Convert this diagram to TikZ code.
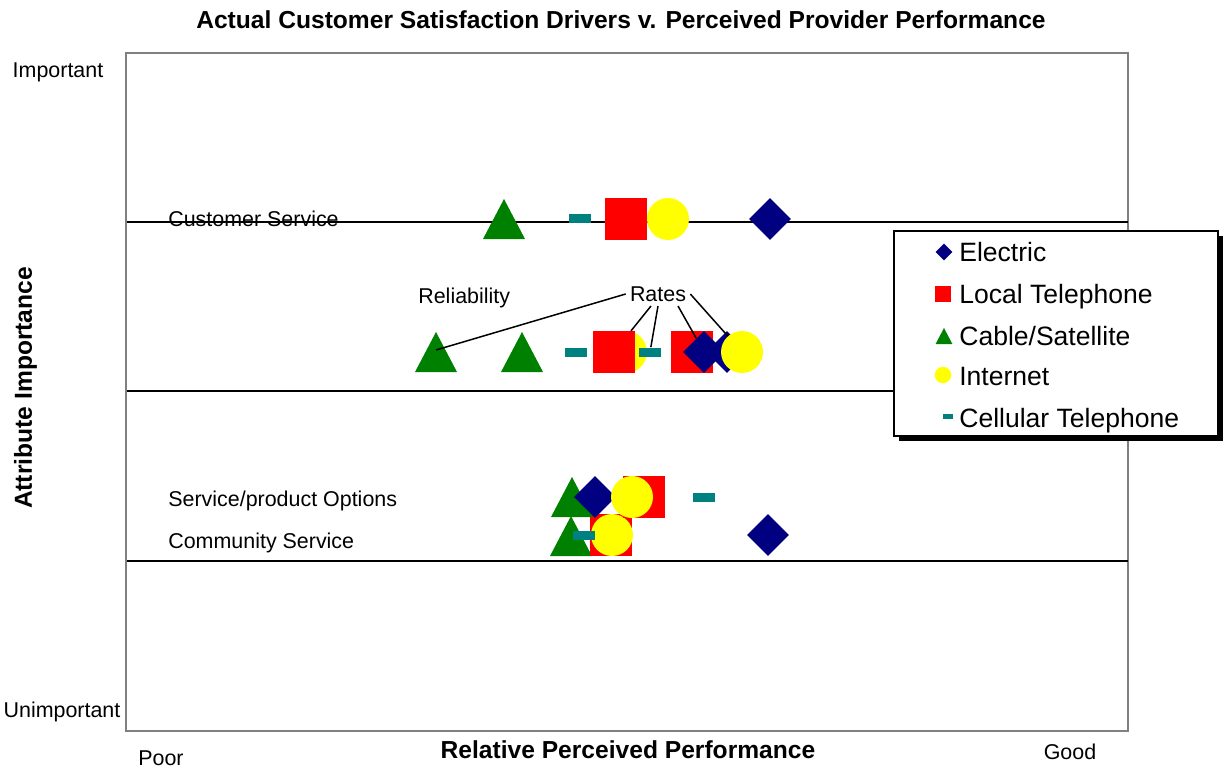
\documentclass[tikz,border=0pt]{standalone}
\usepackage{fontspec}
\setmainfont{Liberation Sans}
\usepackage{tikz}
\usetikzlibrary{shapes,shadows}
\definecolor{elecblue}{RGB}{0,0,128}
\definecolor{cablegreen}{RGB}{0,128,0}
\definecolor{netyellow}{RGB}{255,255,0}
\definecolor{cellteal}{RGB}{0,128,128}
\tikzstyle{electric}=[diamond,fill=elecblue,inner sep=0,minimum size=.84cm]
\tikzstyle{localtel}=[rectangle,fill=red,inner sep=0,minimum size=.83cm]
\tikzstyle{internet}=[circle,fill=netyellow,inner sep=0,minimum size=.84cm]
\tikzstyle{cellular}=[rectangle,fill=cellteal,inner sep=0,minimum width=.44cm,minimum height=.18cm]
\tikzstyle{frame}=[draw=gray,line width=.04cm]
\tikzstyle{divider}=[black,line width=.03cm]
\tikzstyle{label}=[inner sep=0,text height=8.7pt,text depth=0pt,font=\fontsize{12.2}{14}\selectfont]
\tikzstyle{axislabel}=[inner sep=0,text height=10pt,text depth=0pt,font=\fontsize{14}{16}\selectfont\bfseries]
\tikzstyle{legtext}=[inner sep=0,anchor=west,text height=10.8pt,text depth=0pt,font=\fontsize{15.1}{17}\selectfont]
% triangle marker: name, centre, scale
\newcommand{\cabletri}[3][1]{%
  \coordinate (#2) at (#3);
  \fill[cablegreen,shift={(#3)},scale=#1] (-21,20) -- (21,20) -- (0,-20) -- cycle;}

\begin{document}
\begin{tikzpicture}[x=.02cm, y=-.02cm]
	\useasboundingbox (0,0) rectangle (1225,768);

	%plot area
	\draw[frame] (126,53) rectangle (1128,731);
	\draw[black,line width=.04cm] (127,222) -- (1128,222);
	\draw[divider] (127,391) -- (1128,391);
	\draw[divider] (127,561) -- (1128,561);

	%texts
	\node[axislabel] (title) at (621,20) {Actual Customer Satisfaction Drivers v. Perceived Provider Performance};
	\node[axislabel] (xlabel) at (628,750) {Relative Perceived Performance};
	\node[axislabel,rotate=90] (ylabel) at (23,388) {Attribute Importance};
	\node[label] (imp) at (58,70) {Important};
	\node[label] (unimp) at (62,710) {Unimportant};
	\node[label] (poor) at (161,758) {Poor};
	\node[label] (good) at (1070,752) {Good};
	\node[label,anchor=west] (custserv) at (168,219) {Customer Service};
	\node[label,anchor=west] (reliab) at (418,296) {Reliability};
	\node[label,inner sep=.08cm] (rates) at (658,294) {Rates};
	\node[label,anchor=west] (options) at (168,499) {Service/product Options};
	\node[label,anchor=west] (commun) at (168,541) {Community Service};

	%customer service
	\cabletri{cs-cab}{504,219}
	\node[cellular] (cs-cell) at (580,218) {};
	\node[localtel] (cs-loc) at (626,219) {};
	\node[internet] (cs-net) at (668,219) {};
	\node[electric] (cs-ele) at (770,219) {};

	%reliability and rates
	\cabletri{rt-cab}{436,352}
	\cabletri{rl-cab}{522,352}
	\node[cellular] (rl-cell) at (576,352) {};
	\node[internet] (rl-net) at (626,352) {};
	\node[localtel] (rt-loc) at (614,352) {};
	\node[cellular] (rt-cell) at (650,352) {};
	\node[localtel] (rl-loc) at (692,352) {};
	\node[electric] (rl-ele) at (727,352) {};
	\node[electric] (rt-ele) at (704,352) {};
	\node[internet] (rt-net) at (742,352) {};

	%community service
	\cabletri{cm-cab}{571,536}
	\node[localtel] (cm-loc) at (611,535) {};
	\node[internet] (cm-net) at (612,535) {};
	\node[cellular] (cm-cell) at (584,535) {};
	\node[electric] (cm-ele) at (768,535) {};

	%service/product options
	\cabletri{op-cab}{572,497}
	\node[electric] (op-ele) at (595,497) {};
	\node[localtel] (op-loc) at (644,497) {};
	\node[internet] (op-net) at (632,497) {};
	\node[cellular] (op-cell) at (704,497) {};

	%rates pointers
	\draw[line width=.03cm] (rates.west) -- ([yshift=.04cm]rt-cab);
	\draw[line width=.03cm] ([xshift=-.14cm]rates.south) -- ([yshift=-.06cm]rt-loc);
	\draw[line width=.03cm] (rates.south) -- ([yshift=-.04cm]rt-cell);
	\draw[line width=.03cm] ([xshift=.4cm]rates.south) -- ([xshift=.08cm,yshift=-.04cm]rt-ele);
	\draw[line width=.03cm] (rates.east) -- ([xshift=.16cm,yshift=-.06cm]rt-net);

	%legend
	\fill[black] (899,236) rectangle (1223,441);
	\draw[fill=white,line width=.04cm] (894,231) rectangle (1218,436);
	\node[electric,minimum size=.34cm] (leg-ele) at (944,252) {};
	\node[legtext] (leg-ele-t) at (959,252) {Electric};
	\node[localtel,minimum size=.32cm] (leg-loc) at (943,294) {};
	\node[legtext] (leg-loc-t) at (959,294) {Local Telephone};
	\cabletri[.4]{leg-cab}{944,336}
	\node[legtext] (leg-cab-t) at (959,336) {Cable/Satellite};
	\node[internet,minimum size=.33cm] (leg-net) at (943,375) {};
	\node[legtext] (leg-net-t) at (959,376) {Internet};
	\node[cellular,minimum width=.2cm,minimum height=.1cm] (leg-cell) at (948,416) {};
	\node[legtext] (leg-cell-t) at (959,418) {Cellular Telephone};
\end{tikzpicture}
\end{document}
